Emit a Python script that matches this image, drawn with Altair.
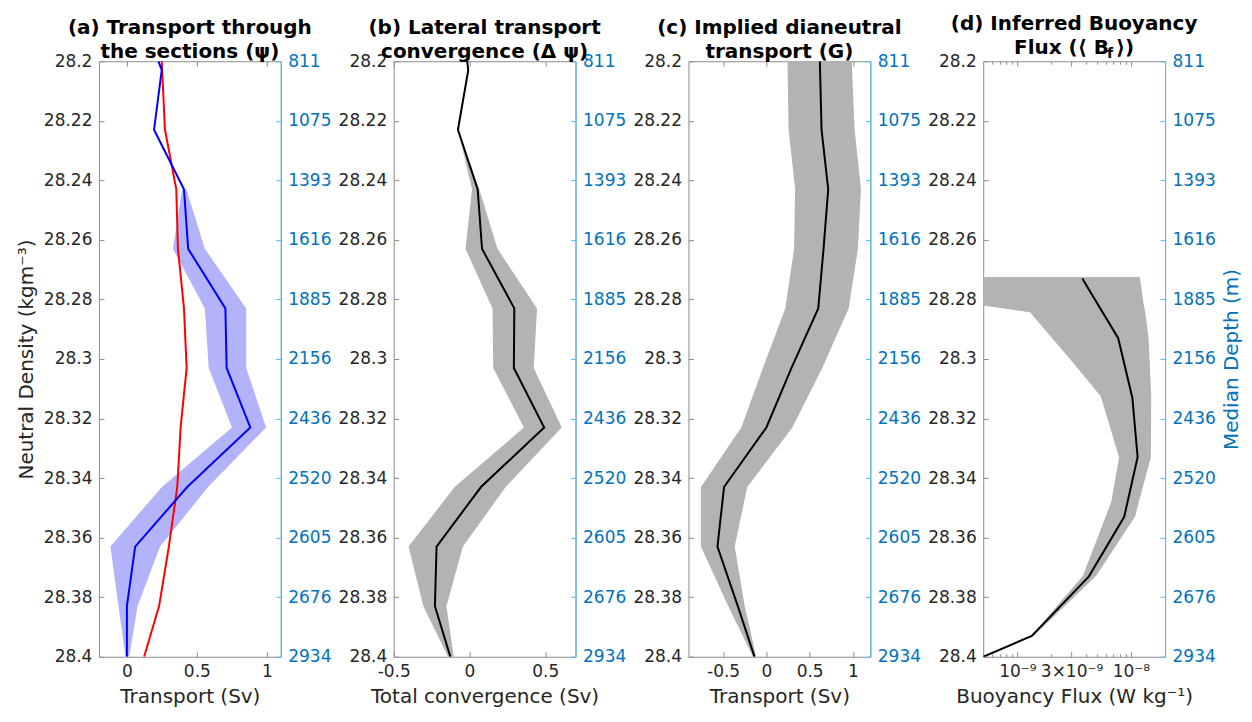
import altair as alt
import pandas as pd

FONT = "DejaVu Sans"
AX_GRAY = "#8c8c8c"
TXT = "#262626"
BLUE_TXT = "#0072BD"
BLUE_AX = "#4DBEEE"
BLUE_BAND = "#B3B3FA"
GRAY_BAND = "#B3B3B3"

W, H = 182, 596

density_ticks = [28.2, 28.22, 28.24, 28.26, 28.28, 28.3, 28.32, 28.34, 28.36, 28.38, 28.4]
depth_labels = ["811", "1075", "1393", "1616", "1885", "2156", "2436", "2520", "2605", "2676", "2934"]

# common density levels of the profiles (panels a-c)
dens = [28.2, 28.203, 28.223, 28.243, 28.263, 28.283, 28.303, 28.323, 28.343, 28.363, 28.383, 28.4]

# (a) transport through the sections
psi_blue = [0.225, 0.249, 0.194, 0.408, 0.438, 0.704, 0.713, 0.882, 0.431, 0.059, 0.0, 0.0]
psi_red = [0.249, 0.252, 0.272, 0.353, 0.365, 0.408, 0.427, 0.384, 0.36, 0.30, 0.23, 0.123]
dens_a_band = [28.243, 28.263, 28.283, 28.303, 28.323, 28.343, 28.363, 28.383, 28.4]
psi_lo = [0.395, 0.329, 0.557, 0.585, 0.751, 0.25, -0.118, -0.06, -0.01]
psi_hi = [0.425, 0.557, 0.853, 0.853, 0.995, 0.58, 0.237, 0.076, 0.017]

# (b) lateral transport convergence
conv = [-0.015, -0.008, -0.076, 0.054, 0.083, 0.296, 0.293, 0.493, 0.076, -0.217, -0.228, -0.126]
dens_b_band = [28.223, 28.243, 28.263, 28.283, 28.303, 28.323, 28.343, 28.363, 28.383, 28.4]
conv_lo = [-0.076, 0.017, -0.026, 0.152, 0.157, 0.359, -0.098, -0.402, -0.304, -0.141]
conv_hi = [-0.076, 0.065, 0.185, 0.446, 0.424, 0.609, 0.239, -0.043, -0.152, -0.104]

# (c) implied dianeutral transport
g_mid = [0.618, 0.62, 0.637, 0.714, 0.66, 0.599, 0.29, 0.0, -0.489, -0.565, -0.33, -0.137]
g_lo = [0.244, 0.245, 0.256, 0.332, 0.32, 0.218, -0.04, -0.29, -0.756, -0.756, -0.44, -0.155]
g_hi = [0.989, 0.99, 1.019, 1.092, 1.057, 0.95, 0.645, 0.30, -0.221, -0.366, -0.25, -0.118]

# (d) inferred buoyancy flux
dens_d = [28.273, 28.293, 28.313, 28.333, 28.353, 28.373, 28.393, 28.4]
bf_mid = [3.73e-9, 7.73e-9, 1.03e-8, 1.146e-8, 8.73e-9, 4.27e-9, 1.34e-9, 5e-10]
dens_d_band = [28.2725, 28.282, 28.2843, 28.2928, 28.2998, 28.3125, 28.333, 28.3478, 28.3529, 28.3728, 28.3928]
bf_lo = [1e-10, 4.9e-10, 1.29e-9, 2.0e-9, 2.88e-9, 5.42e-9, 7.87e-9, 6.73e-9, 6.0e-9, 3.78e-9, 1.34e-9]
bf_hi = [1.2e-8, 1.3e-8, 1.34e-8, 1.43e-8, 1.46e-8, 1.51e-8, 1.50e-8, 1.18e-8, 1.09e-8, 4.95e-9, 1.41e-9]

xticks_a = [0, 0.5, 1]
xticks_b = [-0.5, 0, 0.5]
xticks_c = [-0.5, 0, 0.5, 1]
xticks_d = [1e-9, 3e-9, 1e-8]
xminor_d = [6e-10, 7e-10, 8e-10, 9e-10, 2e-9, 4e-9, 5e-9, 6e-9, 7e-9, 8e-9, 9e-9, 2e-8]

ysc = alt.Scale(domain=[28.2, 28.4], reverse=True, nice=False, zero=False)
depth_expr = "[" + ",".join("'%s'" % d for d in depth_labels) + "][round((datum.value-28.2)/0.02)]"

NUM_EXPR = "'' + datum.value"
LOG_EXPR = "datum.value < 2e-9 ? '10\u207b\u2079' : (datum.value < 5e-9 ? '3\u00d710\u207b\u2079' : '10\u207b\u2078')"


def tick_axis(orient, vals, color, size=5):
    return alt.Axis(orient=orient, values=vals, labels=False, domain=False, grid=False,
                    tickSize=size, tickColor=color, tickWidth=1, offset=-size, title=None,
                    minExtent=0, maxExtent=0)


def panel(data_layers, xsc, xvals, xlabel_expr, xtitle, title_lines, left_title=None,
          right_title=None, minor=None, title_offset=-30):
    dummy = pd.DataFrame({"v": [xvals[1]], "density": [28.3]})
    base = alt.Chart(dummy).mark_point(opacity=0)

    xlab = dict(orient="bottom", values=xvals, labelExpr=xlabel_expr, ticks=False, tickSize=0,
                domain=False, grid=False, labelPadding=7, labelFont=FONT, labelFontSize=17,
                labelColor=TXT, labelFlush=False, labelOverlap=False, title=xtitle,
                titleFont=FONT, titleFontSize=20, titleFontWeight="normal", titleColor=TXT,
                titlePadding=7)
    ylab = dict(orient="left", values=density_ticks, format=".2~f", ticks=False, tickSize=0,
                domain=False, grid=False, labelPadding=7, labelFont=FONT, labelFontSize=17,
                labelColor=TXT, labelFlush=False, labelOverlap=False)
    if left_title:
        ylab.update(title=left_title, titleFont=FONT, titleFontSize=20, titleFontWeight="normal",
                    titleColor=TXT, titlePadding=7)
    else:
        ylab["title"] = None
    yr = dict(orient="right", values=density_ticks, labelExpr=depth_expr, ticks=False, tickSize=0,
              domain=True, domainColor=BLUE_AX, domainWidth=1, grid=False, labelPadding=7,
              labelFont=FONT, labelFontSize=17, labelColor=BLUE_TXT, labelFlush=False,
              labelOverlap=False)
    if right_title:
        yr.update(title=right_title, titleFont=FONT, titleFontSize=20, titleFontWeight="normal",
                  titleColor=BLUE_TXT, titlePadding=6, titleAngle=270, titleBaseline="top")
    else:
        yr["title"] = None

    L1 = base.encode(x=alt.X("v:Q", scale=xsc, axis=alt.Axis(**xlab)),
                     y=alt.Y("density:Q", scale=ysc, axis=alt.Axis(**ylab)))
    L2 = base.encode(x=alt.X("v:Q", scale=xsc, axis=tick_axis("bottom", xvals, AX_GRAY)),
                     y=alt.Y("density:Q", scale=ysc, axis=alt.Axis(**yr)))
    L3 = base.encode(x=alt.X("v:Q", scale=xsc, axis=tick_axis("top", xvals, AX_GRAY)),
                     y=alt.Y("density:Q", scale=ysc, axis=tick_axis("left", density_ticks, AX_GRAY)))
    L4 = base.encode(x=alt.X("v:Q", scale=xsc, axis=None),
                     y=alt.Y("density:Q", scale=ysc, axis=tick_axis("right", density_ticks, BLUE_AX)))
    layers = list(data_layers) + [L1, L2, L3, L4]
    if minor:
        layers.append(base.encode(x=alt.X("v:Q", scale=xsc, axis=tick_axis("bottom", minor, AX_GRAY, 3)),
                                  y=alt.Y("density:Q", scale=ysc, axis=None)))
        layers.append(base.encode(x=alt.X("v:Q", scale=xsc, axis=tick_axis("top", minor, AX_GRAY, 3)),
                                  y=alt.Y("density:Q", scale=ysc, axis=None)))
    return alt.layer(*layers).resolve_axis(x="independent", y="independent").properties(
        width=W, height=H,
        title=alt.TitleParams(text=title_lines, font=FONT, fontSize=20, fontWeight="bold",
                              color="black", anchor="middle", baseline="bottom",
                              offset=title_offset, lineHeight=24))


def band(df, xsc, color):
    return alt.Chart(df).mark_area(orient="horizontal", color=color, opacity=1, clip=True).encode(
        y=alt.Y("density:Q", scale=ysc, axis=None),
        x=alt.X("lo:Q", scale=xsc, axis=None),
        x2="hi:Q")


def line(df, xsc, color):
    return alt.Chart(df).mark_line(color=color, strokeWidth=2, clip=True).encode(
        y=alt.Y("density:Q", scale=ysc, axis=None),
        x=alt.X("v:Q", scale=xsc, axis=None),
        order="density:Q")


xsc_a = alt.Scale(domain=[-0.2, 1.1], nice=False, zero=False)
xsc_b = alt.Scale(domain=[-0.5, 0.7], nice=False, zero=False)
xsc_c = alt.Scale(domain=[-0.9, 1.2], nice=False, zero=False)
xsc_d = alt.Scale(type="log", domain=[5e-10, 2e-8], nice=False)

pa = panel([
    band(pd.DataFrame({"density": dens_a_band, "lo": psi_lo, "hi": psi_hi}), xsc_a, BLUE_BAND),
    line(pd.DataFrame({"density": dens, "v": psi_red}), xsc_a, "#FF0000"),
    line(pd.DataFrame({"density": dens, "v": psi_blue}), xsc_a, "#0000FF"),
], xsc_a, xticks_a, NUM_EXPR, "Transport (Sv)",
    ["(a) Transport through", "the sections (\u03c8)"],
    left_title="Neutral Density (kgm\u207b\u00b3)")

pb = panel([
    band(pd.DataFrame({"density": dens_b_band, "lo": conv_lo, "hi": conv_hi}), xsc_b, GRAY_BAND),
    line(pd.DataFrame({"density": dens, "v": conv}), xsc_b, "black"),
], xsc_b, xticks_b, NUM_EXPR, "Total convergence (Sv)",
    ["(b) Lateral transport", "convergence (\u0394 \u03c8)"])

pc = panel([
    band(pd.DataFrame({"density": dens, "lo": g_lo, "hi": g_hi}), xsc_c, GRAY_BAND),
    line(pd.DataFrame({"density": dens, "v": g_mid}), xsc_c, "black"),
], xsc_c, xticks_c, NUM_EXPR, "Transport (Sv)",
    ["(c) Implied dianeutral", "transport (G)"])

sub_f = alt.Chart(pd.DataFrame({"t": ["f"]})).mark_text(
    font=FONT, fontSize=14, fontWeight="bold", align="left", baseline="alphabetic", color="black"
).encode(text="t:N", x=alt.value(124), y=alt.value(-3))

pd_ = panel([
    band(pd.DataFrame({"density": dens_d_band, "lo": bf_lo, "hi": bf_hi}), xsc_d, GRAY_BAND),
    line(pd.DataFrame({"density": dens_d, "v": bf_mid}), xsc_d, "black"),
    sub_f,
], xsc_d, xticks_d, LOG_EXPR, "Buoyancy Flux (W kg\u207b\u00b9)",
    ["(d) Inferred Buoyancy", "Flux (\u27e8 B    \u27e9)"],
    right_title="Median Depth (m)", minor=xminor_d, title_offset=-31)

chart = alt.hconcat(pa, pb, pc, pd_, spacing=113, bounds="flush").properties(
    padding={"left": 7, "right": 2, "top": 5, "bottom": 0}
).configure_view(stroke=AX_GRAY, strokeWidth=1)

chart.save("out.html", embed_options={"renderer": "svg", "actions": False})
